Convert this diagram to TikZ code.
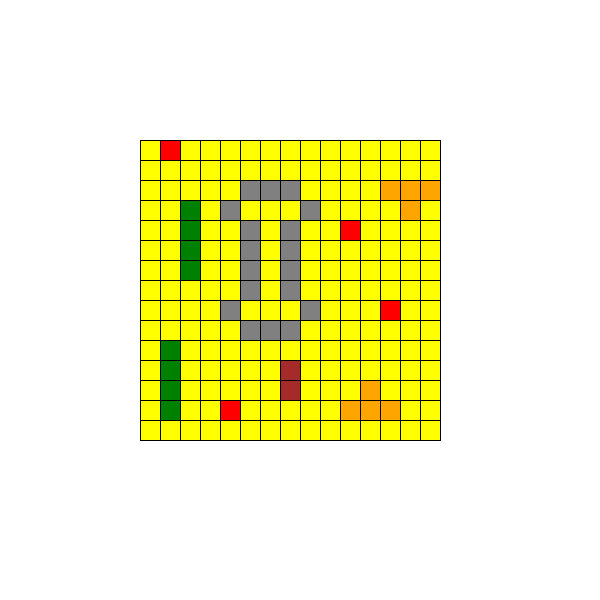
\documentclass[tikz,border=0pt]{standalone}
\usepackage{xcolor}
\usepackage{tikz}
\definecolor{fieldyellow}{RGB}{255,255,0}
\definecolor{wallgray}{RGB}{128,128,128}
\definecolor{treegreen}{RGB}{0,128,0}
\definecolor{fruitorange}{RGB}{255,165,0}
\definecolor{rockbrown}{RGB}{165,42,42}
\definecolor{spotred}{RGB}{255,0,0}
\tikzset{
  cell/.style={
    draw=black,
    line width=0.6pt
  },
  every picture/.style = {
    x=0.5cm,
    y=0.5cm
  }
}

\begin{document}
\begin{tikzpicture}
        \useasboundingbox (-7,7) rectangle (23,-23);
        % yellow field
        \foreach \c in {0,...,14}
          \foreach \r in {0,...,14}
            \filldraw[cell, fill=fieldyellow] (\c,-\r) rectangle ++(1,-1);
        % walls
        \foreach \c/\r in {5/2,6/2,7/2,4/3,8/3,5/4,7/4,5/5,7/5,5/6,7/6,5/7,7/7,4/8,8/8,5/9,6/9,7/9}
            \filldraw[cell, fill=wallgray] (\c,-\r) rectangle ++(1,-1);
        % green bars
        \foreach \c/\r in {2/3,2/4,2/5,2/6,1/10,1/11,1/12,1/13}
            \filldraw[cell, fill=treegreen] (\c,-\r) rectangle ++(1,-1);
        % brown
        \foreach \c/\r in {7/11,7/12}
            \filldraw[cell, fill=rockbrown] (\c,-\r) rectangle ++(1,-1);
        % orange
        \foreach \c/\r in {12/2,13/2,14/2,13/3,11/12,10/13,11/13,12/13}
            \filldraw[cell, fill=fruitorange] (\c,-\r) rectangle ++(1,-1);
        % red
        \foreach \c/\r in {1/0,10/4,12/8,4/13}
            \filldraw[cell, fill=spotred] (\c,-\r) rectangle ++(1,-1);
    \end{tikzpicture}
\end{document}
